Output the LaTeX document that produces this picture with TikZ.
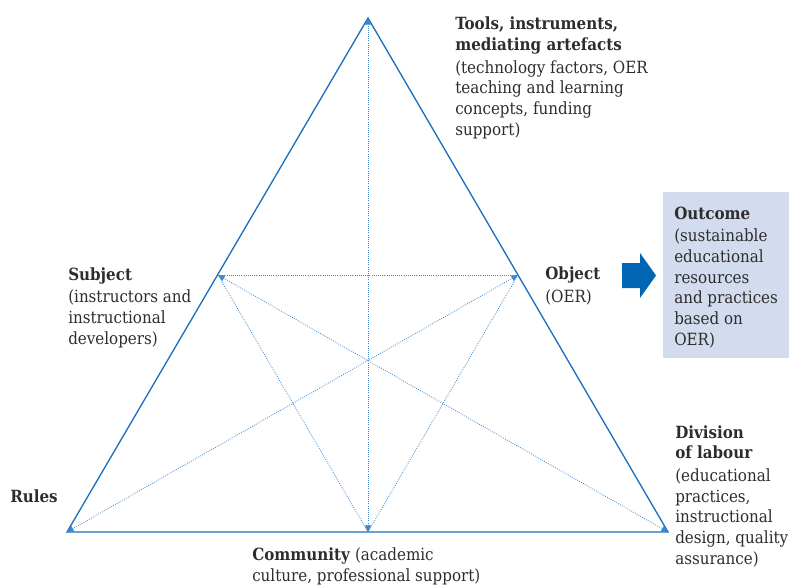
\documentclass[tikz,border=0pt]{standalone}
\usepackage{fontspec}
\setmainfont{DejaVu Serif Condensed}
\usetikzlibrary{arrows.meta}
\definecolor{triblue}{RGB}{28,112,192}
\definecolor{arrowblue}{RGB}{0,102,179}
\definecolor{boxfill}{RGB}{211,219,238}
\definecolor{textgrey}{RGB}{45,45,45}
\tikzset{
  tri/.style={draw=triblue, line width=1pt},
  link/.style={draw=triblue!85, line width=0.6pt, densely dotted},
  tip/.style={{Triangle[length=5pt,width=4.5pt]}-{Triangle[length=5pt,width=4.5pt]}},
  lbl/.style={anchor=base west, align=left, inner sep=0pt, text=textgrey,
    font=\fontsize{12.6}{15.5}\selectfont}
}
\begin{document}
\begin{tikzpicture}[x=0.75pt, y=-0.75pt]
      \useasboundingbox (0,0) rectangle (791,585);
      % outcome box and block arrow
      \fill[boxfill] (663,192) rectangle (789,358);
      \fill[arrowblue] (622,263) -- (640,263) -- (640,253) -- (656,275.5)
        -- (640,298) -- (640,288) -- (622,288) -- cycle;
      % corners of the triangle
      \coordinate (top) at (368,18);
      \coordinate (rules) at (67,532);
      \coordinate (labour) at (668,532);
      \coordinate (subj) at (218,275);
      \coordinate (obj) at (518,275);
      \coordinate (comm) at (368,532);
      \draw[tri] (top) -- (rules) -- (labour) -- cycle;
      \begin{scope}[link]
        \draw (subj) to (obj);
        \draw (subj) to (comm);
        \draw (obj) to (comm);
        \draw[tip] (comm) to (top);
        \draw[tip] (subj) to (labour);
        \draw[tip] (obj) to (rules);
      \end{scope}
      % texts (anchored at the base of their last line)
      \node[lbl] (tools) at (455,135) {\textbf{Tools, instruments,}\\
        \textbf{mediating artefacts}\\[1.5pt]
        (technology factors, OER\\teaching and learning\\concepts, funding\\support)};
      \node[lbl] (subjtext) at (68,344) {\textbf{Subject}\\[1.5pt]
        (instructors and\\instructional\\developers)};
      \node[lbl] (objtext) at (545,302) {\textbf{Object}\\[1.5pt](OER)};
      \node[lbl] (outcome) at (674,345) {\textbf{Outcome}\\[1.5pt]
        (sustainable\\educational\\resources\\and practices\\based on\\OER)};
      \node[lbl] (rulestext) at (10,502) {\textbf{Rules}};
      \node[lbl] (labourtext) at (675,564) {\textbf{Division}\\
        \textbf{of labour}\\[1.5pt](educational\\practices,\\instructional\\
        design, quality\\assurance)};
      \node[lbl] (commtext) at (252,581) {\textbf{Community} (academic\\
        culture, professional support)};
    \end{tikzpicture}
\end{document}
